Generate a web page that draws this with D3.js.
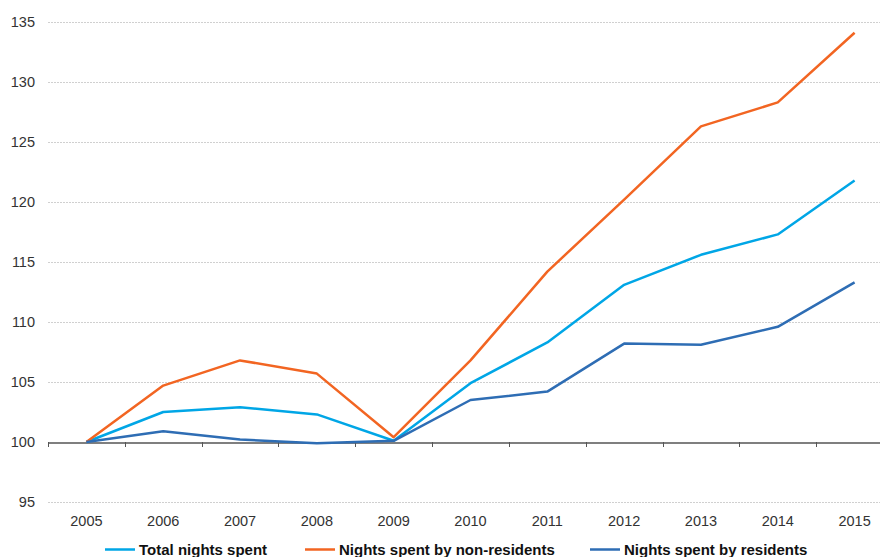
<!DOCTYPE html>
<html><head><meta charset="utf-8">
<script src="https://cdn.jsdelivr.net/npm/d3@7"></script>
<style>body{margin:0;background:#fff}svg{display:block;font-family:"Liberation Sans",Arial,sans-serif}</style>
</head><body><svg id="c" width="880" height="557"></svg>
<script>
const years = ["2005","2006","2007","2008","2009","2010","2011","2012","2013","2014","2015"];
const total = [100, 102.5, 102.9, 102.3, 100.1, 104.9, 108.3, 113.1, 115.6, 117.3, 121.8];
const nonResidents = [100, 104.7, 106.8, 105.7, 100.4, 106.8, 114.2, 120.2, 126.3, 128.3, 134.1];
const residents = [100, 100.9, 100.2, 99.9, 100.1, 103.5, 104.2, 108.2, 108.1, 109.6, 113.3];
const yTicks = [95, 100, 105, 110, 115, 120, 125, 130, 135];
const seriesNames = ["Total nights spent", "Nights spent by non-residents", "Nights spent by residents"];
const colors = ["#00A6E6", "#F26522", "#2E6DB4"];

const svg = d3.select("#c");
const x = d3.scaleBand().domain(years).range([48, 893]);
const y = d3.scaleLinear().domain([95, 135]).range([502, 22]);

// gridlines
svg.append("g").selectAll("line").data(yTicks.filter(d => d !== 100)).join("line")
  .attr("x1", 48).attr("x2", 880)
  .attr("y1", d => y(d) + 0.5).attr("y2", d => y(d) + 0.5)
  .attr("stroke", "#d0d0d0").attr("stroke-dasharray", "2,1").attr("stroke-width", 1);

// y labels
svg.append("g").selectAll("text").data(yTicks).join("text")
  .attr("x", 35).attr("y", d => y(d)).attr("dy", "0.35em")
  .attr("text-anchor", "end").attr("font-size", 14.5).attr("fill", "#333")
  .text(d => d);

// x axis at 100
const xAxis = d3.axisBottom(x).tickSize(0).tickFormat("");
const gx = svg.append("g").attr("transform", `translate(0,${y(100) + 0.5})`).call(xAxis);
gx.select(".domain").attr("stroke", "#555").attr("stroke-width", 1.3);
const edges = years.map(d => x(d));
svg.append("g").selectAll("line").data(edges).join("line")
  .attr("x1", d => Math.round(d) + 0.5).attr("x2", d => Math.round(d) + 0.5)
  .attr("y1", y(100)).attr("y2", y(100) + 5)
  .attr("stroke", "#555").attr("stroke-width", 1);

// x labels
svg.append("g").selectAll("text").data(years).join("text")
  .attr("x", d => x(d) + x.bandwidth() / 2).attr("y", 526)
  .attr("text-anchor", "middle").attr("font-size", 14.5).attr("fill", "#333")
  .text(d => d);

// lines
const line = d3.line().x((d, i) => x(years[i]) + x.bandwidth() / 2).y(d => y(d));
[total, nonResidents, residents].forEach((s, k) => {
  svg.append("path").datum(s).attr("d", line)
    .attr("fill", "none").attr("stroke", colors[k]).attr("stroke-width", 2.5)
    .attr("stroke-linejoin", "round");
});

// legend
const legX = [105, 305, 590];
const lg = svg.append("g");
seriesNames.forEach((n, k) => {
  lg.append("line").attr("x1", legX[k]).attr("x2", legX[k] + 30)
    .attr("y1", 549.5).attr("y2", 549.5).attr("stroke", colors[k]).attr("stroke-width", 2.5);
  lg.append("text").attr("x", legX[k] + 34).attr("y", 555)
    .attr("font-size", 15).attr("font-weight", "bold").attr("fill", "#111").text(n);
});
</script></body></html>
